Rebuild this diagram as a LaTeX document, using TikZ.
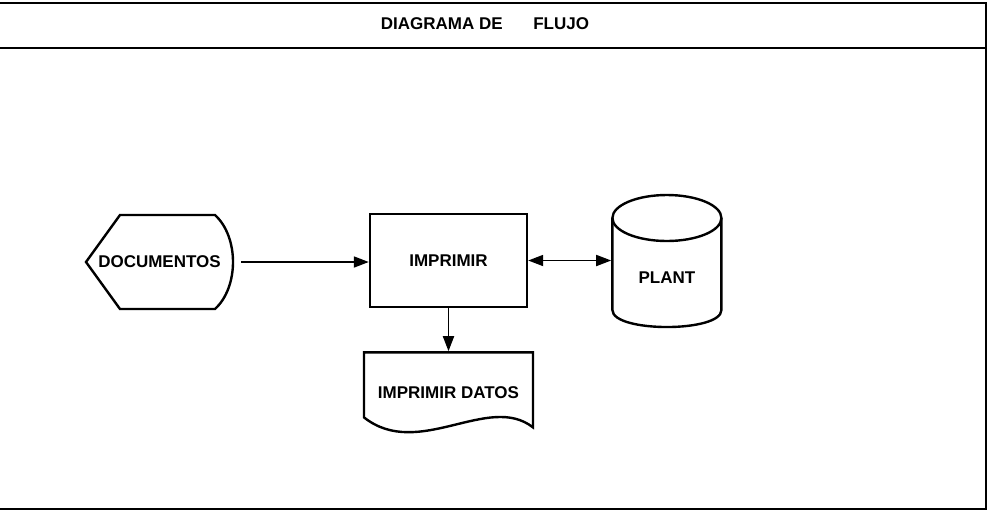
\documentclass[tikz,border=0pt]{standalone}
\usepackage{fontspec}
\setmainfont{Liberation Sans}
\usetikzlibrary{arrows.meta,positioning,calc}
\tikzset{
  fc/.style={x=0.5pt, y=-0.5pt, line width=1.2pt, every node/.style={font=\fontsize{8.5}{10}\selectfont\bfseries, inner sep=0pt}},
  flowbox/.style={draw, rectangle, minimum width=78.5pt, minimum height=46.5pt},
  flowarr/.style={line width=0.9pt, -{Triangle[length=7.5pt,width=5.5pt]}}
}

\begin{document}
\begin{tikzpicture}[fc]
\useasboundingbox (0,0) rectangle (990,515);
\draw (0,3) -- (986,3) -- (986,509) -- (0,509);
\draw (0,48) -- (986,48);
\node (title) at (485,24) {DIAGRAMA DE\hspace{1.8em}FLUJO};

\node[minimum width=73.5pt, minimum height=47pt] (docs) at (159.5,262) {DOCUMENTOS};
\node[flowbox] (impr) at (448.5,260.5) {IMPRIMIR};
\node[minimum width=54.5pt, minimum height=66pt, right=41.5pt of impr] (plant) {};
\node (plantlbl) at ($(plant)+(0,17)$) {PLANT};
\node[minimum width=84.5pt, minimum height=40pt, below=21.5pt of impr] (datos) {IMPRIMIR DATOS};

\draw ($(docs)+(-73.5,0)$) -- ($(docs)+(-39.5,-47)$) -- ($(docs)+(55.5,-47)$)
  .. controls ($(docs)+(79.5,-25)$) and ($(docs)+(79.5,25)$) .. ($(docs)+(55.5,47)$)
  -- ($(docs)+(-39.5,47)$) -- cycle;
\draw ($(plant)+(0,-42.5)$) ellipse [x radius=54.5, y radius=23];
\draw ($(plant)+(-54.5,-42.5)$) -- ($(plant)+(-54.5,49.5)$)
  .. controls ($(plant)+(-54.5,72.2)$) and ($(plant)+(54.5,72.2)$) .. ($(plant)+(54.5,49.5)$)
  -- ($(plant)+(54.5,-42.5)$);
\draw ($(datos)+(-84.5,25)$) -- ($(datos)+(-84.5,-40)$) -- ($(datos)+(84.5,-40)$) -- ($(datos)+(84.5,35)$)
  .. controls ($(datos)+(40,0)$) and ($(datos)+(-30,68)$) .. cycle;

\draw[flowarr, shorten <=3.5pt] (docs.east) -- (docs.east -| impr.west);
\draw[flowarr, {Triangle[length=7.5pt,width=5.5pt]}-{Triangle[length=7.5pt,width=5.5pt]}] (impr.east) -- (impr.east -| plant.west);
\draw[flowarr] (impr.south) -- (datos.north);
\end{tikzpicture}
\end{document}
